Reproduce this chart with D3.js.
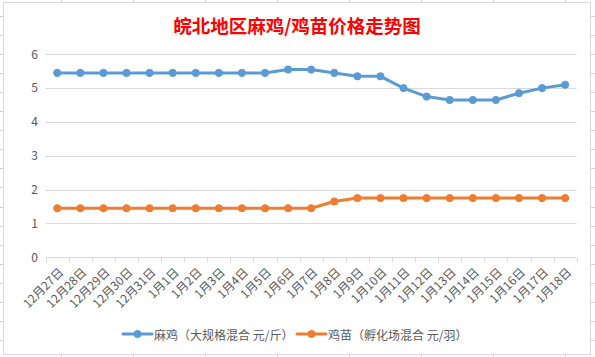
<!DOCTYPE html>
<html>
<head>
<meta charset="utf-8">
<script src="https://cdn.jsdelivr.net/npm/d3@7"></script>
<style>
  html, body { margin: 0; padding: 0; background: #fff; }
  svg { display: block; font-family: "Noto Sans CJK SC", "DejaVu Sans", sans-serif; }
</style>
</head>
<body>
<svg id="chart" width="595" height="357"></svg>
<script>
const categories = ["12月27日","12月28日","12月29日","12月30日","12月31日","1月1日","1月2日","1月3日","1月4日","1月5日","1月6日","1月7日","1月8日","1月9日","1月10日","1月11日","1月12日","1月13日","1月14日","1月15日","1月16日","1月17日","1月18日"];
const maji = [5.45,5.45,5.45,5.45,5.45,5.45,5.45,5.45,5.45,5.45,5.55,5.55,5.45,5.35,5.35,5.0,4.75,4.65,4.65,4.65,4.85,5.0,5.1];
const jimiao = [1.45,1.45,1.45,1.45,1.45,1.45,1.45,1.45,1.45,1.45,1.45,1.45,1.65,1.75,1.75,1.75,1.75,1.75,1.75,1.75,1.75,1.75,1.75];
const yTicks = [0,1,2,3,4,5,6];
const seriesNames = ["麻鸡（大规格混合 元/斤）","鸡苗（孵化场混合 元/羽）"];
const title = "皖北地区麻鸡/鸡苗价格走势图";

const colors = ["#5B9BD5", "#ED7D31"];
const textColor = "#595959";
const gridColor = "#D9D9D9";

const svg = d3.select("#chart");
const W = 595, H = 357;

// spreadsheet gridlines in the background
const bg = svg.append("g");
d3.range(61.5, W, 72).forEach(x => bg.append("line").attr("x1", x).attr("x2", x).attr("y1", 0).attr("y2", H).attr("stroke", "#D4D4D4").attr("stroke-width", 1));
d3.range(15.5, H, 19.1).forEach(y => bg.append("line").attr("y1", Math.round(y) + 0.5).attr("y2", Math.round(y) + 0.5).attr("x1", 0).attr("x2", W).attr("stroke", "#D4D4D4").attr("stroke-width", 1));

// chart frame
svg.append("rect").attr("x", 3.5).attr("y", 2.5).attr("width", 587).attr("height", 352)
  .attr("fill", "#fff").attr("stroke", gridColor).attr("stroke-width", 1);

const x = d3.scaleBand().domain(categories).range([45.7, 576.7]);
const y = d3.scaleLinear().domain([0, 6]).range([257.3, 54.3]);

// title
svg.append("text").attr("x", 297).attr("y", 25).attr("text-anchor", "middle")
  .attr("dominant-baseline", "central")
  .attr("fill", "#FF0000").attr("font-size", "18.5px").attr("font-weight", "bold")
  .text(title);

// horizontal gridlines
svg.append("g").selectAll("line").data(yTicks.filter(d => d > 0)).join("line")
  .attr("x1", 45.7).attr("x2", 576.7)
  .attr("y1", d => Math.round(y(d)) + 0.5).attr("y2", d => Math.round(y(d)) + 0.5)
  .attr("stroke", gridColor).attr("stroke-width", 1);

// y axis labels
const yAxis = d3.axisLeft(y).tickValues(yTicks).tickSize(0).tickPadding(0).tickFormat(d3.format("d"));
const yg = svg.append("g").attr("transform", "translate(38,0)").call(yAxis);
yg.select(".domain").remove();
yg.selectAll("text").attr("fill", textColor).attr("font-size", "12px").attr("font-family", "'Noto Sans CJK SC', sans-serif");

// x axis
const xAxis = d3.axisBottom(x).tickSizeOuter(0).tickSizeInner(5).tickFormat("");
const xg = svg.append("g").attr("transform", `translate(0,${Math.round(y(0)) + 0.5})`).call(xAxis);
xg.select(".domain").attr("stroke", gridColor).attr("d", `M45.7,0H576.7`);
// ticks at band boundaries
xg.selectAll(".tick").remove();
const bounds = categories.map(c => x(c)).concat([x(categories[categories.length - 1]) + x.bandwidth()]);
xg.selectAll("line.bt").data(bounds).join("line").attr("class", "bt")
  .attr("x1", d => Math.round(d) + 0.5).attr("x2", d => Math.round(d) + 0.5)
  .attr("y1", 0).attr("y2", 5).attr("stroke", gridColor);

// x labels rotated
svg.append("g").selectAll("text").data(categories).join("text")
  .attr("transform", d => `translate(${x(d) + x.bandwidth() / 2 + 4},${270}) rotate(-45)`)
  .attr("text-anchor", "end").attr("dy", "0.35em")
  .attr("fill", textColor).attr("font-size", "12px")
  .text(d => d);

// lines
const series = [maji, jimiao];
series.forEach((vals, i) => {
  const line = d3.line().x((d, j) => x(categories[j]) + x.bandwidth() / 2).y(d => y(d));
  svg.append("path").datum(vals).attr("d", line)
    .attr("fill", "none").attr("stroke", colors[i]).attr("stroke-width", 3)
    .attr("stroke-linejoin", "round").attr("stroke-linecap", "round");
  svg.append("g").selectAll("circle").data(vals).join("circle")
    .attr("cx", (d, j) => x(categories[j]) + x.bandwidth() / 2)
    .attr("cy", d => y(d)).attr("r", 3.6)
    .attr("fill", colors[i]).attr("stroke", colors[i]).attr("stroke-width", 1);
});

// legend
const legendItems = [
  { x0: 123, name: seriesNames[0], color: colors[0] },
  { x0: 297, name: seriesNames[1], color: colors[1] }
];
const lg = svg.append("g");
legendItems.forEach(it => {
  const ly = 334;
  lg.append("line").attr("x1", it.x0).attr("x2", it.x0 + 29).attr("y1", ly).attr("y2", ly)
    .attr("stroke", it.color).attr("stroke-width", 3).attr("stroke-linecap", "round");
  lg.append("circle").attr("cx", it.x0 + 14.5).attr("cy", ly).attr("r", 3.6)
    .attr("fill", it.color).attr("stroke", it.color).attr("stroke-width", 1);
  lg.append("text").attr("x", it.x0 + 31).attr("y", ly).attr("dominant-baseline", "central")
    .attr("fill", textColor).attr("font-size", "12px").text(it.name);
});
</script>
</body>
</html>
